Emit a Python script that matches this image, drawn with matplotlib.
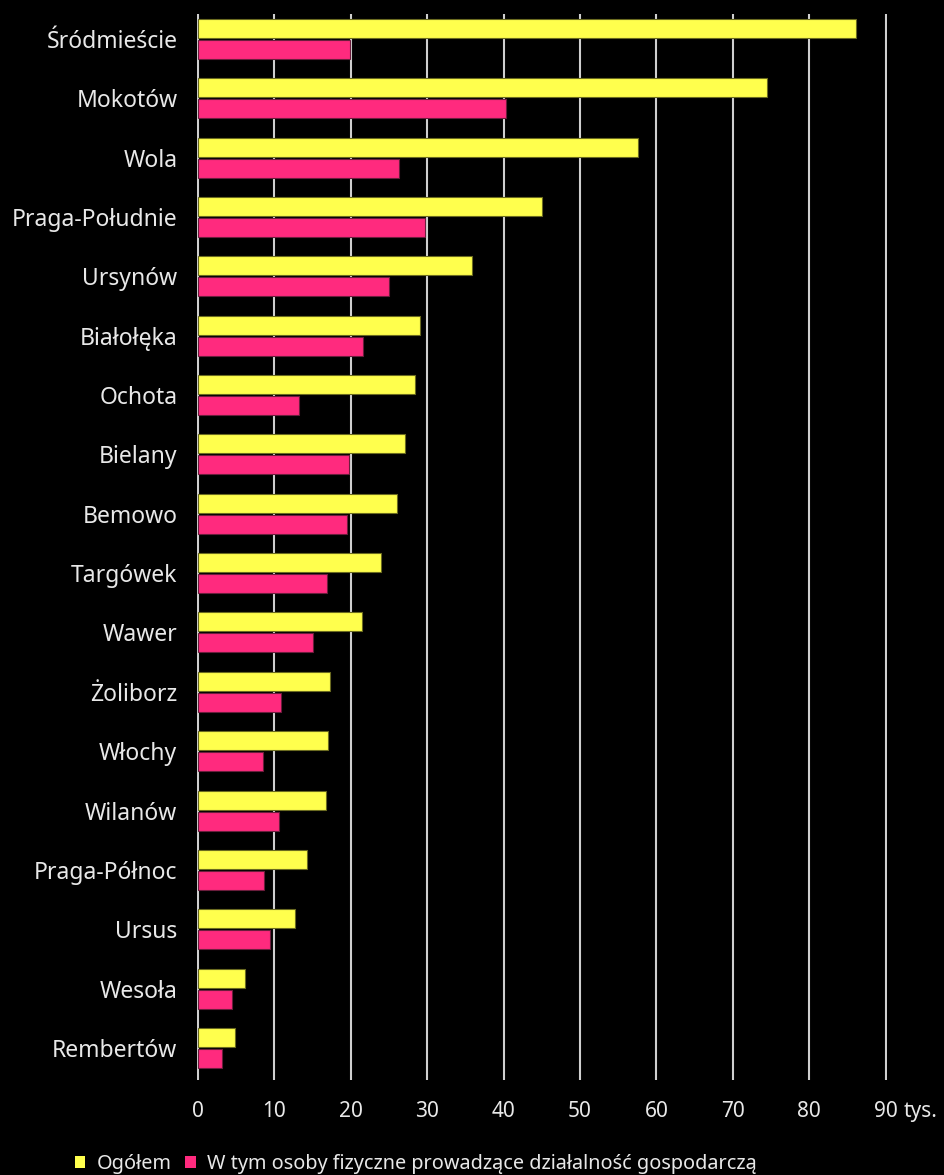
import numpy as np
import matplotlib
matplotlib.use("Agg")
import matplotlib.pyplot as plt
from matplotlib.patches import Patch

plt.rcParams['font.family'] = ['Noto Sans', 'DejaVu Sans']

# Data (thousands)
districts = ["Śródmieście", "Mokotów", "Wola", "Praga-Południe", "Ursynów",
             "Białołęka", "Ochota", "Bielany", "Bemowo", "Targówek", "Wawer",
             "Żoliborz", "Włochy", "Wilanów", "Praga-Północ", "Ursus",
             "Wesoła", "Rembertów"]
ogolem = [86.1, 74.5, 57.6, 45.0, 35.8, 29.0, 28.4, 27.1, 26.0, 24.0, 21.5,
          17.3, 17.0, 16.7, 14.2, 12.7, 6.1, 4.9]
osoby_fizyczne = [19.9, 40.3, 26.3, 29.7, 25.0, 21.6, 13.2, 19.8, 19.5, 16.9,
                  15.0, 10.9, 8.5, 10.6, 8.6, 9.4, 4.4, 3.2]
ticks = [0, 10, 20, 30, 40, 50, 60, 70, 80, 90]

YELLOW = "#ffff4d"
PINK = "#ff2a7e"
TEXT = "#e8e8e8"

fig = plt.figure(figsize=(9.44, 11.75), dpi=100, facecolor="black")
# axes placement in pixels: x from 196.9 to 887.2, y from 14 to 1080
ax = fig.add_axes([196.9 / 944, 1 - 1080 / 1175, (887.2 - 196.9) / 944, (1080 - 14) / 1175])
ax.set_facecolor("black")

y = np.arange(len(districts))
h = 0.32
off = 0.177
ax.barh(y - off, ogolem, height=h, color=YELLOW, edgecolor="#6b6b20", linewidth=0.8, zorder=3)
ax.barh(y + off, osoby_fizyczne, height=h, color=PINK, edgecolor="#6b1d3c", linewidth=0.8, zorder=3)

ax.set_xlim(-0.15, 90.2)
ax.set_ylim(len(districts) - 1 + 0.54, -0.42)

for t in ticks:
    ax.axvline(t, color="#cfcfcf", linewidth=1.5, zorder=1)

ax.set_yticks(y)
ax.set_yticklabels(districts, fontsize=16.5, color=TEXT)
ax.set_xticks(ticks)
ax.set_xticklabels([str(t) for t in ticks], fontsize=15, color=TEXT)
ax.tick_params(axis="y", length=0, pad=14)
ax.tick_params(axis="x", length=0, pad=15)
for s in ax.spines.values():
    s.set_visible(False)

ax.annotate("tys.", xy=(90, 0), xycoords=("data", "axes fraction"),
            xytext=(13, -15), textcoords="offset points",
            ha="left", va="top", fontsize=15, color=TEXT)

handles = [Patch(facecolor=YELLOW, edgecolor="none"),
           Patch(facecolor=PINK, edgecolor="none")]
leg = fig.legend(handles, ["Ogółem", "W tym osoby fizyczne prowadzące działalność gospodarczą"],
                 loc="center left", bbox_to_anchor=(0.079, 0.009), ncol=2,
                 frameon=False, fontsize=14.3, handlelength=0.55, handleheight=0.55,
                 handletextpad=0.55, columnspacing=0.7, borderpad=0, borderaxespad=0)
for txt in leg.get_texts():
    txt.set_color(TEXT)

fig.savefig("out.png", dpi=100, facecolor="black")
